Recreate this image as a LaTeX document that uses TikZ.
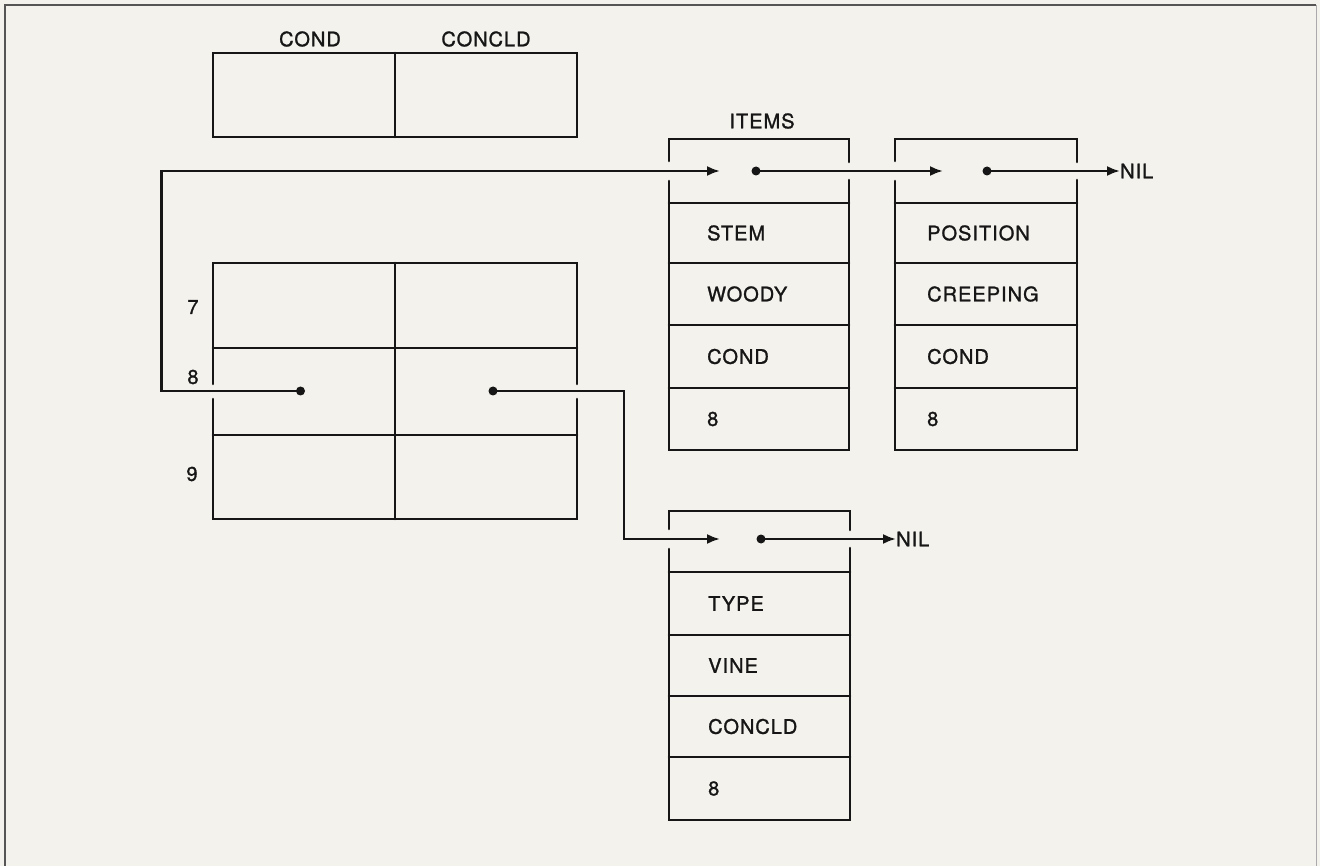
\documentclass[tikz,border=0pt]{standalone}
\usepackage{fontspec}
\setmainfont{TeX Gyre Heros}[LetterSpace=5,FakeBold=1.2]
\usetikzlibrary{arrows.meta}
\definecolor{paper}{HTML}{F3F2EC}
\definecolor{ink}{HTML}{161616}
\definecolor{edge}{HTML}{555555}
\begin{document}
\begin{tikzpicture}[x=1pt,y=-1pt,
  boxline/.style={draw=ink,line width=2.6pt,line cap=round,line join=miter},
  lbl/.style={font=\fontsize{20}{22}\selectfont,text=ink,inner sep=0pt},
  cell/.style={lbl,anchor=west},
  link/.style={draw=ink,line width=2.3pt,-{Latex[length=13pt,width=10pt]}},
  dotmark/.style={fill=ink}]
\fill[paper] (0,0) rectangle (1320,866);
\useasboundingbox (0,0) rectangle (1320,866);
% scan frame
\draw[edge,line width=1.6pt] (5,866) -- (5,5) -- (1316,5);
\draw[edge!50,line width=1pt] (1316,5) -- (1316,866);

% ---- top table ----
\draw[boxline] (213,53) rectangle (577,137);
\draw[boxline] (395,53) -- (395,137);
\node[lbl] (tcond) at (310,39) {COND};
\node[lbl] (tconcld) at (486,39) {CONCLD};

% ---- big table ----
\draw[boxline] (213,384) -- (213,263) -- (577,263) -- (577,384);
\draw[boxline] (213,399) -- (213,519) -- (577,519) -- (577,399);
\draw[boxline] (395,263) -- (395,519);
\draw[boxline] (213,348) -- (577,348);
\draw[boxline] (213,435) -- (577,435);
\node[lbl] (n7) at (193,307) {7};
\node[lbl] (n8) at (193,377) {8};
\node[lbl] (n9) at (192,474) {9};
\coordinate (dl) at (300.5,391);
\coordinate (dr) at (493,391);

% ---- ITEMS record ----
\node[lbl] (items) at (762,121) {ITEMS};
\draw[boxline] (669,161) -- (669,139) -- (849,139) -- (849,162);
\draw[boxline] (669,181) -- (669,450) -- (849,450) -- (849,180);
\foreach \yy in {203,263,325,388} \draw[boxline] (669,\yy) -- (849,\yy);
\coordinate (ain) at (720,171);
\coordinate (ad) at (756,171);
\node[cell] (stem) at (707,233) {STEM};
\node[cell] (woody) at (707,294) {WOODY};
\node[cell] (acond) at (707,356.5) {COND};
\node[cell] (a8) at (707,419) {8};

% ---- POSITION record ----
\draw[boxline] (895,161) -- (895,139) -- (1077,139) -- (1077,162);
\draw[boxline] (895,181) -- (895,450) -- (1077,450) -- (1077,180);
\foreach \yy in {203,263,325,388} \draw[boxline] (895,\yy) -- (1077,\yy);
\coordinate (bin) at (943,171);
\coordinate (bd) at (987,171);
\node[cell] (pos) at (927,233) {POSITION};
\node[cell] (creep) at (927,294) {CREEPING};
\node[cell] (bcond) at (927,356.5) {COND};
\node[cell] (b8) at (927,419) {8};
\node[lbl,anchor=west] (nil1) at (1120,171) {NIL};

% ---- TYPE record ----
\draw[boxline] (669,529) -- (669,511) -- (850,511) -- (850,530);
\draw[boxline] (669,549) -- (669,820) -- (850,820) -- (850,548);
\foreach \yy in {572,635,696,757} \draw[boxline] (669,\yy) -- (850,\yy);
\coordinate (cin) at (720,539);
\coordinate (cd) at (761,539);
\node[cell] (type) at (708,603.5) {TYPE};
\node[cell] (vine) at (708,665.5) {VINE};
\node[cell] (concld) at (708,726.5) {CONCLD};
\node[cell] (c8) at (708,788.5) {8};
\node[lbl,anchor=west] (nil2) at (896,539) {NIL};

% ---- connectors ----
\draw[link] (dl) -- (161.5,391) |- (ain);
\draw[link] (dr) -- (624,391) |- (cin);
\draw[link] (ad) -- (bin);
\draw[link] (bd) -- (nil1.west);
\draw[link] (cd) -- (nil2.west);
\foreach \p in {dl,dr,ad,bd,cd} \fill[dotmark] (\p) circle (4.5pt);
\end{tikzpicture}
\end{document}
